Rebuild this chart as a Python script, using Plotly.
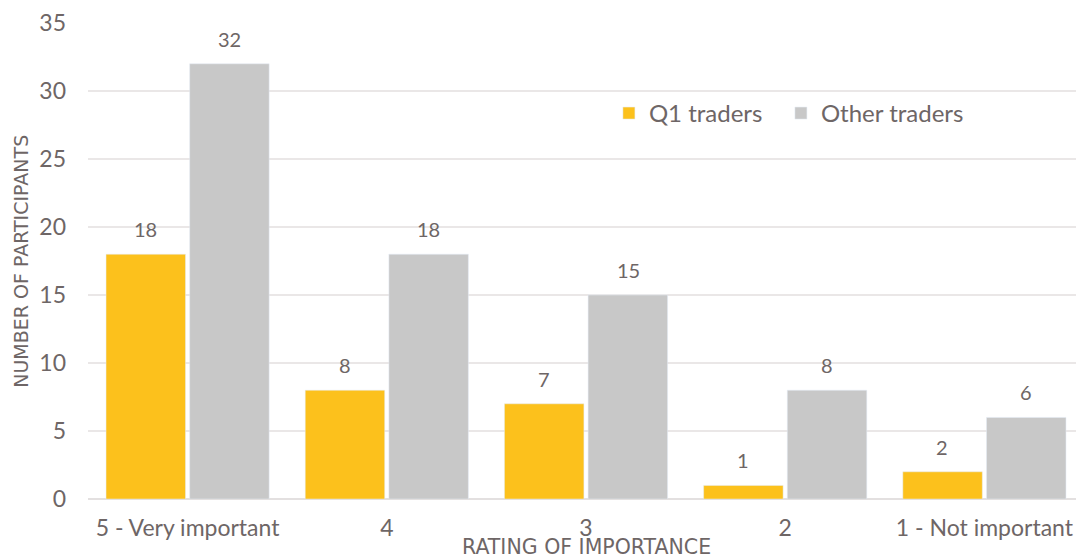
import plotly.graph_objects as go

categories = ["5 - Very important", "4", "3", "2", "1 - Not important"]
q1_traders = [18, 8, 7, 1, 2]
other_traders = [32, 18, 15, 8, 6]
y_ticks = [0, 5, 10, 15, 20, 25, 30, 35]

ORANGE = "#FCC11C"
GRAY = "#C8C8C8"
TEXT = "#6E6666"
FONT = "Lato, sans-serif"
TFONT = "DejaVu Sans, sans-serif"

fig = go.Figure()
fig.add_trace(go.Bar(name="Q1 traders", x=categories, y=q1_traders, marker_color=ORANGE,
                     legend="legend"))
fig.add_trace(go.Bar(name="Other traders", x=categories, y=other_traders, marker_color=GRAY,
                     legend="legend2"))

for series, shift in ((q1_traders, -42), (other_traders, 42)):
    for i, v in enumerate(series):
        fig.add_annotation(x=i, y=v, xref="x", yref="y", text=str(v), showarrow=False,
                           xshift=shift, yshift=25, font=dict(size=20, color=TEXT, family=FONT))

fig.add_annotation(text="RATING OF IMPORTANCE", xref="paper", yref="paper", x=0.5, y=-0.1,
                   xanchor="center", yanchor="middle", showarrow=False,
                   font=dict(size=20.5, color=TEXT, family=TFONT))
fig.add_annotation(text="NUMBER OF PARTICIPANTS", xref="paper", yref="paper", x=-0.0675, y=0.50,
                   xanchor="center", yanchor="middle", textangle=-90, showarrow=False,
                   font=dict(size=19, color=TEXT, family=TFONT))

legend_style = dict(orientation="h", y=0.81, xanchor="left", yanchor="middle",
                    font=dict(size=24, color=TEXT, family=FONT), itemwidth=30,
                    bgcolor="rgba(0,0,0,0)")

fig.update_layout(
    width=1076, height=550,
    margin=dict(l=80, r=0, t=11, b=59),
    paper_bgcolor="white", plot_bgcolor="white",
    barmode="group", bargap=0.16, bargroupgap=0.05,
    font=dict(family=FONT, color=TEXT),
    showlegend=True,
    legend=dict(x=0.523, **legend_style),
    legend2=dict(x=0.6957, **legend_style),
    xaxis=dict(type="category", showgrid=False, tickfont=dict(size=23, color=TEXT), ticklabelstandoff=13),
    yaxis=dict(range=[0, 35], tickvals=y_ticks, showgrid=True, gridcolor="#EAE7E7", gridwidth=1.5,
               zeroline=True, zerolinecolor="#E3E0E0", zerolinewidth=1.5,
               ticklabeloverflow="allow",
               tickfont=dict(size=23, color=TEXT), ticklabelstandoff=21),
)

fig.write_html("out.html")
